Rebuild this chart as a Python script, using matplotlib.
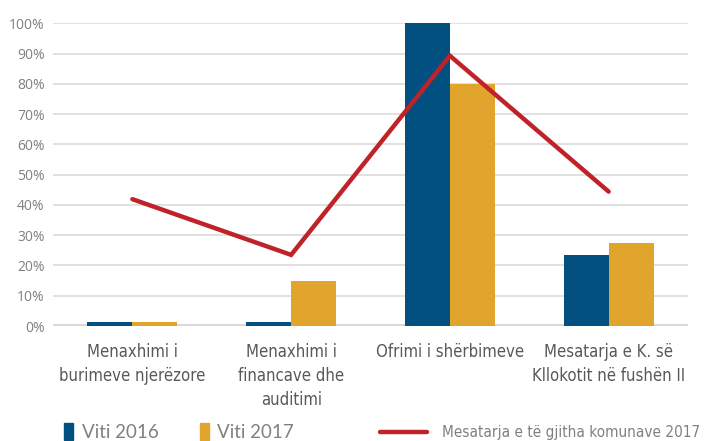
import numpy as np
import matplotlib
matplotlib.use('Agg')
import matplotlib.pyplot as plt
from matplotlib.patches import Rectangle
from matplotlib.lines import Line2D

# values (percent)
categories = ['Menaxhimi i\nburimeve njerëzore',
              'Menaxhimi i\nfinancave dhe\nauditimi',
              'Ofrimi i shërbimeve',
              'Mesatarja e K. së\nKllokotit në fushën II']
viti_2016 = [1.2, 1.2, 100.0, 23.3]
viti_2017 = [1.2, 14.9, 80.0, 27.4]
mesatarja = [41.9, 23.5, 89.3, 44.4]
yticks = list(range(0, 101, 10))

c2016 = '#02507F'
c2017 = '#E1A52D'
cline = '#C0222A'

fig = plt.figure(figsize=(7.07, 4.41), dpi=100)
ax = fig.add_axes([53/707, 1-326/441, 635/707, (326-23.3)/441])

x = np.arange(len(categories))
w = 0.284
ax.bar(x - w/2, viti_2016, w, color=c2016, zorder=3)
ax.bar(x + w/2, viti_2017, w, color=c2017, zorder=3)
ax.plot(x, mesatarja, color=cline, lw=3.2, solid_capstyle='round',
        solid_joinstyle='miter', zorder=4)

ax.set_xlim(-0.5, len(categories) - 0.5)
ax.set_ylim(0, 100)
ax.set_yticks(yticks)
ax.set_yticklabels(['{}%'.format(t) for t in yticks], family='Open Sans',
                   fontsize=10, color='#808080')
ax.set_xticks(x)
ax.set_xticklabels(categories, family='DejaVu Sans', stretch='condensed',
                   fontsize=12, color='#595959', linespacing=1.45)
ax.tick_params(length=0)
ax.tick_params(axis='y', pad=6)
ax.tick_params(axis='x', pad=12)
for t in yticks[1:]:
    ax.axhline(t, color='#d9d9d9', lw=1.1, zorder=1)
ax.axhline(0, color='#d9d9d9', lw=2.9, zorder=2)
for s in ax.spines.values():
    s.set_visible(False)

# legend drawn by hand along the bottom
H, W = 441, 707
fig.add_artist(Rectangle((64/W, 1-440/H), 9/W, 17/H, color=c2016,
                         transform=fig.transFigure))
fig.text(82/W, 1-432/H, 'Viti 2016', family='Lato', fontsize=13.5,
         color='#808080', va='center')
fig.add_artist(Rectangle((200/W, 1-440/H), 9/W, 17/H, color=c2017,
                         transform=fig.transFigure))
fig.text(217/W, 1-432/H, 'Viti 2017', family='Lato', fontsize=13.5,
         color='#808080', va='center')
fig.add_artist(Line2D([380/W, 427/W], [1-432/H, 1-432/H], color=cline,
                      lw=3.2, solid_capstyle='round', transform=fig.transFigure))
fig.text(442/W, 1-432/H, 'Mesatarja e të gjitha komunave 2017',
         family='DejaVu Sans', stretch='condensed', fontsize=11,
         color='#808080', va='center')

plt.savefig('out.png', dpi=100)
